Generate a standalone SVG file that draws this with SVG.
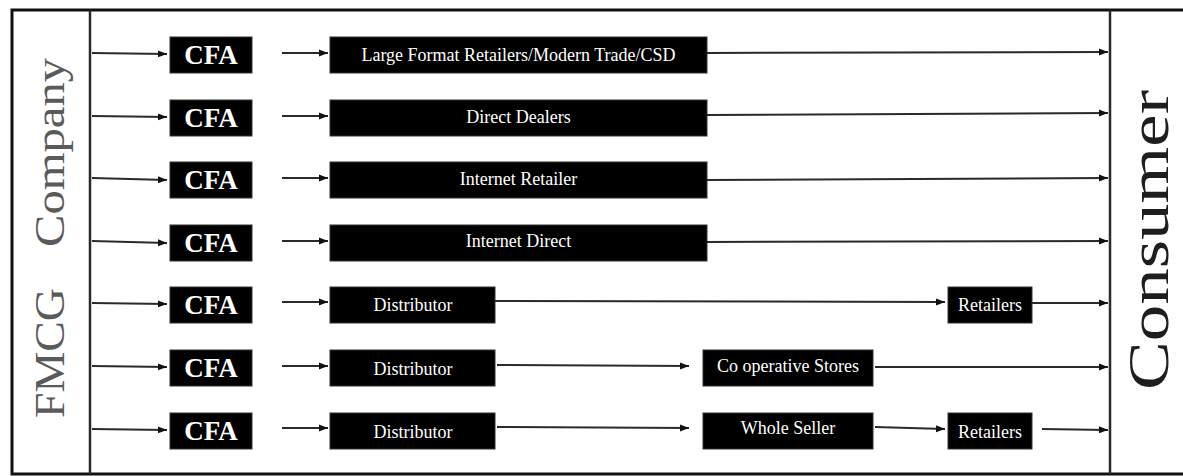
<svg xmlns="http://www.w3.org/2000/svg" width="1183" height="476" viewBox="0 0 1183 476">
  <style>
    .frame { fill: none; stroke: #111; stroke-width: 3; }
    .bar { stroke: #2a2a2a; stroke-width: 2.5; }
    .box { fill: #000; stroke: #333; stroke-width: 1; }
    .cfa { font-family: "Liberation Serif", "Times New Roman", serif; font-weight: bold; font-size: 27px; fill: #fff; text-anchor: middle; }
    .lbl { font-family: "Liberation Serif", "Times New Roman", serif; font-size: 18px; fill: #fff; text-anchor: middle; }
    .side { font-family: "Liberation Serif", "Times New Roman", serif; }
    .edge { fill: none; stroke: #2a2a2a; stroke-width: 2; marker-end: url(#arrow); }
  </style>
  <defs>
    <marker id="arrow" markerUnits="userSpaceOnUse" markerWidth="9" markerHeight="8" refX="9" refY="4" orient="auto">
      <path d="M0,0.5 L9,4 L0,7.5 z" fill="#111"/>
    </marker>
  </defs>

  <rect width="1183" height="476" fill="#fff"/>

  <!-- outer frame and the two vertical bars -->
  <rect class="frame" x="12" y="10" width="1200" height="464"/>
  <line class="bar" x1="90" y1="10" x2="90" y2="474"/>
  <line class="bar" x1="1110" y1="10" x2="1110" y2="474"/>

  <!-- side titles -->
  <g id="fmcg-company">
    <text class="side" transform="rotate(-90)" x="-418" y="64" font-size="42" fill="#5a5a5a" textLength="130" lengthAdjust="spacingAndGlyphs">FMCG</text>
    <text class="side" transform="rotate(-90)" x="-247" y="64" font-size="42" fill="#5a5a5a" textLength="189" lengthAdjust="spacingAndGlyphs">Company</text>
  </g>
  <g id="consumer">
    <text class="side" transform="rotate(-90)" x="-390" y="1168" font-size="58" fill="#1e1e1e" textLength="300" lengthAdjust="spacingAndGlyphs">Consumer</text>
  </g>

  <!-- CFA column -->
  <g id="cfa-1"><rect class="box" x="170" y="37" width="82" height="36"/><text class="cfa" x="211" y="64">CFA</text></g>
  <g id="cfa-2"><rect class="box" x="170" y="100" width="82" height="36"/><text class="cfa" x="211" y="127">CFA</text></g>
  <g id="cfa-3"><rect class="box" x="170" y="162" width="82" height="36"/><text class="cfa" x="211" y="189">CFA</text></g>
  <g id="cfa-4"><rect class="box" x="170" y="225" width="82" height="36"/><text class="cfa" x="211" y="252">CFA</text></g>
  <g id="cfa-5"><rect class="box" x="170" y="287" width="82" height="36"/><text class="cfa" x="211" y="314">CFA</text></g>
  <g id="cfa-6"><rect class="box" x="170" y="350" width="82" height="36"/><text class="cfa" x="211" y="377">CFA</text></g>
  <g id="cfa-7"><rect class="box" x="170" y="413" width="82" height="36"/><text class="cfa" x="211" y="440">CFA</text></g>

  <!-- second column -->
  <g id="large-format"><rect class="box" x="330" y="37" width="377" height="36"/><text class="lbl" x="518.5" y="61">Large Format Retailers/Modern Trade/CSD</text></g>
  <g id="direct-dealers"><rect class="box" x="330" y="100" width="377" height="36"/><text class="lbl" x="518.5" y="123">Direct Dealers</text></g>
  <g id="internet-retailer"><rect class="box" x="330" y="162" width="377" height="36"/><text class="lbl" x="518.5" y="185">Internet Retailer</text></g>
  <g id="internet-direct"><rect class="box" x="330" y="225" width="377" height="36"/><text class="lbl" x="518.5" y="247">Internet Direct</text></g>
  <g id="distributor-1"><rect class="box" x="330" y="287" width="165" height="36"/><text class="lbl" x="413" y="311">Distributor</text></g>
  <g id="distributor-2"><rect class="box" x="330" y="350" width="165" height="36"/><text class="lbl" x="413" y="375">Distributor</text></g>
  <g id="distributor-3"><rect class="box" x="330" y="413" width="165" height="36"/><text class="lbl" x="413" y="438">Distributor</text></g>

  <!-- third column -->
  <g id="co-operative"><rect class="box" x="703" y="350" width="170" height="36"/><text class="lbl" x="788" y="372">Co operative Stores</text></g>
  <g id="whole-seller"><rect class="box" x="703" y="413" width="170" height="36"/><text class="lbl" x="788" y="434">Whole Seller</text></g>

  <!-- retailers -->
  <g id="retailers-1"><rect class="box" x="948" y="287" width="84" height="36"/><text class="lbl" x="990" y="311">Retailers</text></g>
  <g id="retailers-2"><rect class="box" x="948" y="413" width="84" height="36"/><text class="lbl" x="990" y="438">Retailers</text></g>

  <!-- connectors -->
  <g id="connectors">
    <!-- company to CFA -->
    <line class="edge" x1="92" y1="53" x2="167" y2="54"/>
    <line class="edge" x1="92" y1="116" x2="167" y2="117"/>
    <line class="edge" x1="92" y1="178" x2="167" y2="180"/>
    <line class="edge" x1="92" y1="241" x2="167" y2="243"/>
    <line class="edge" x1="92" y1="303" x2="167" y2="304"/>
    <line class="edge" x1="92" y1="366" x2="167" y2="367"/>
    <line class="edge" x1="92" y1="429" x2="167" y2="430"/>
    <!-- CFA to second column -->
    <line class="edge" x1="282" y1="53" x2="328" y2="53"/>
    <line class="edge" x1="282" y1="116" x2="328" y2="116"/>
    <line class="edge" x1="282" y1="178" x2="328" y2="178"/>
    <line class="edge" x1="282" y1="241" x2="328" y2="241"/>
    <line class="edge" x1="282" y1="302" x2="328" y2="302"/>
    <line class="edge" x1="282" y1="366" x2="328" y2="366"/>
    <line class="edge" x1="282" y1="428" x2="328" y2="428"/>
    <!-- direct channels to consumer -->
    <line class="edge" x1="707" y1="53" x2="1108" y2="52"/>
    <line class="edge" x1="707" y1="115" x2="1108" y2="113"/>
    <line class="edge" x1="707" y1="180" x2="1108" y2="178"/>
    <line class="edge" x1="707" y1="242" x2="1108" y2="241"/>
    <!-- distributor to retailers to consumer -->
    <line class="edge" x1="495" y1="301" x2="945" y2="302"/>
    <line class="edge" x1="1032" y1="303" x2="1108" y2="303"/>
    <!-- distributor to co-operative stores to consumer -->
    <line class="edge" x1="497" y1="365" x2="689" y2="366"/>
    <line class="edge" x1="875" y1="367" x2="1108" y2="367"/>
    <!-- distributor to whole seller to retailers to consumer -->
    <line class="edge" x1="497" y1="427" x2="689" y2="428"/>
    <line class="edge" x1="875" y1="427" x2="945" y2="429"/>
    <line class="edge" x1="1042" y1="429" x2="1108" y2="430"/>
  </g>
</svg>
